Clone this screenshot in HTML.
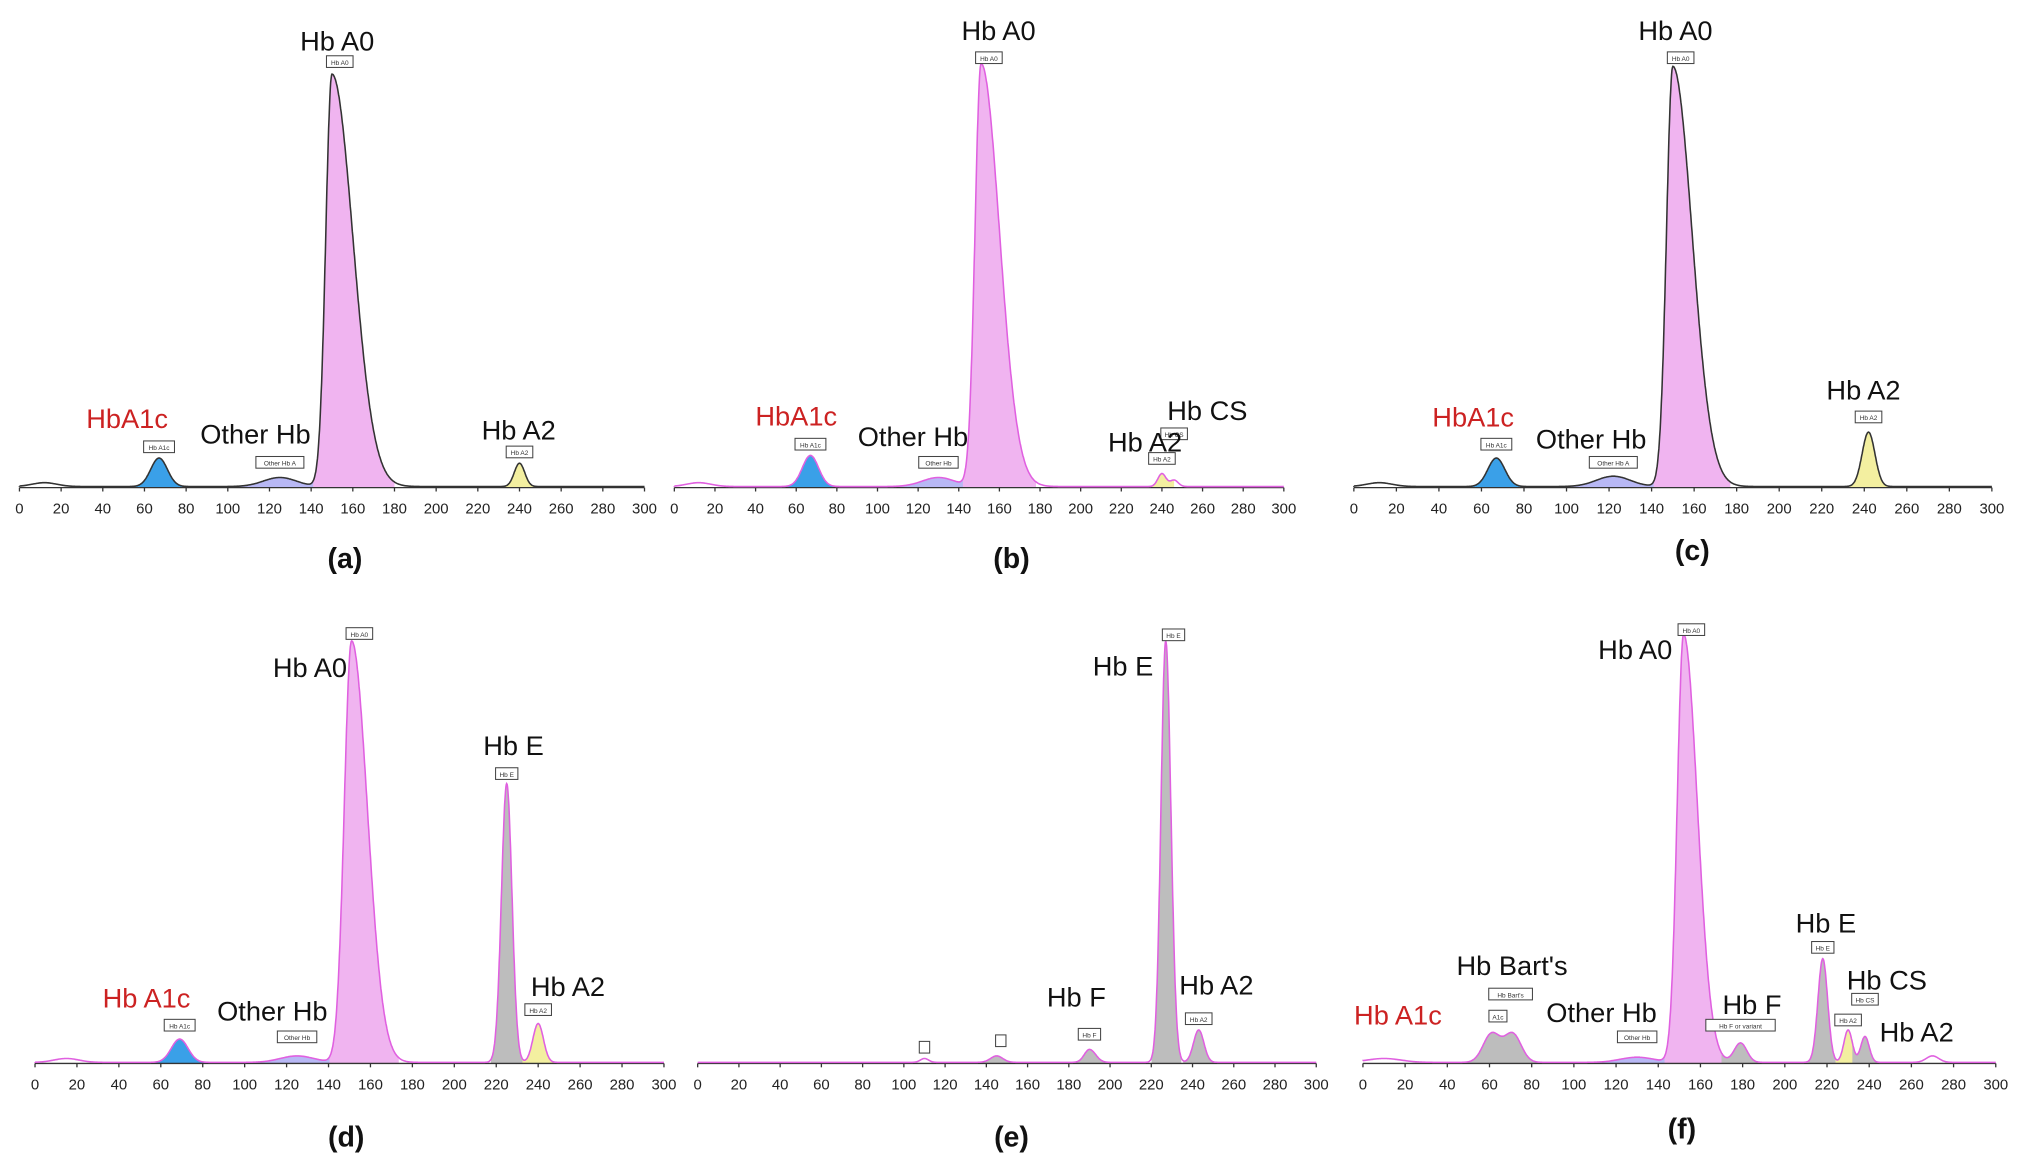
<!DOCTYPE html>
<html><head><meta charset="utf-8"><style>
html,body{margin:0;padding:0;background:#fff;}
svg{display:block;}
text{font-family:"Liberation Sans",Arial,sans-serif;}
.lb{font-size:21px;fill:#111;}
.red{font-size:21px;fill:#cc2222;}
.cap{font-size:22px;font-weight:bold;fill:#111;}
.tk{font-size:11.5px;fill:#222;}
.sb{font-size:5px;fill:#333;}
</style></head><body>
<svg id="s" width="2023" height="1162" viewBox="0 0 1560 896" preserveAspectRatio="none" xmlns="http://www.w3.org/2000/svg">
<g id="plots"></g>
<text class="lb" x="260" y="39" text-anchor="middle">Hb A0</text>
<text class="red" x="98" y="330" text-anchor="middle">HbA1c</text>
<text class="lb" x="197" y="342" text-anchor="middle">Other Hb</text>
<text class="lb" x="400" y="339" text-anchor="middle">Hb A2</text>
<text class="cap" x="266" y="438" text-anchor="middle">(a)</text>
<text class="lb" x="770" y="31" text-anchor="middle">Hb A0</text>
<text class="red" x="614" y="328" text-anchor="middle">HbA1c</text>
<text class="lb" x="704" y="344" text-anchor="middle">Other Hb</text>
<text class="lb" x="883" y="348" text-anchor="middle">Hb A2</text>
<text class="lb" x="931" y="324" text-anchor="middle">Hb CS</text>
<text class="cap" x="780" y="438" text-anchor="middle">(b)</text>
<text class="lb" x="1292" y="31" text-anchor="middle">Hb A0</text>
<text class="red" x="1136" y="329" text-anchor="middle">HbA1c</text>
<text class="lb" x="1227" y="346" text-anchor="middle">Other Hb</text>
<text class="lb" x="1437" y="308" text-anchor="middle">Hb A2</text>
<text class="cap" x="1305" y="432" text-anchor="middle">(c)</text>
<text class="lb" x="239" y="522" text-anchor="middle">Hb A0</text>
<text class="lb" x="396" y="582" text-anchor="middle">Hb E</text>
<text class="lb" x="438" y="768" text-anchor="middle">Hb A2</text>
<text class="red" x="113" y="777" text-anchor="middle">Hb A1c</text>
<text class="lb" x="210" y="787" text-anchor="middle">Other Hb</text>
<text class="cap" x="267" y="884" text-anchor="middle">(d)</text>
<text class="lb" x="866" y="521" text-anchor="middle">Hb E</text>
<text class="lb" x="830" y="776" text-anchor="middle">Hb F</text>
<text class="lb" x="938" y="767" text-anchor="middle">Hb A2</text>
<text class="cap" x="780" y="884" text-anchor="middle">(e)</text>
<text class="lb" x="1261" y="508" text-anchor="middle">Hb A0</text>
<text class="lb" x="1408" y="719" text-anchor="middle">Hb E</text>
<text class="lb" x="1166" y="752" text-anchor="middle">Hb Bart's</text>
<text class="lb" x="1455" y="763" text-anchor="middle">Hb CS</text>
<text class="red" x="1078" y="790" text-anchor="middle">Hb A1c</text>
<text class="lb" x="1235" y="788" text-anchor="middle">Other Hb</text>
<text class="lb" x="1351" y="782" text-anchor="middle">Hb F</text>
<text class="lb" x="1478" y="803" text-anchor="middle">Hb A2</text>
<text class="cap" x="1297" y="878" text-anchor="middle">(f)</text>
</svg>
<script>
var P=[
{x0:15,w:482,y0:376,line:"#333",base:[[12,3,6]],pk:[[67,22,4,4,"#3aa0e8"],[125,7,8,8,"#b8b8f5"],[150,318,3,10,"#f0b4f0"],[240,18,2.5,2.5,"#f3efa0"]],
 boxes:[[150,"Hb A0",48],[67,"Hb A1c",345],[125,"Other Hb A",357],[240,"Hb A2",349]]},
{x0:520,w:470,y0:376,line:"#e060e0",base:[[12,3,6]],pk:[[67,24,4,4,"#3aa0e8"],[130,7,8,8,"#b8b8f5"],[151,326,3,9,"#f0b4f0"],[240,10,2,2,"#f3efa0"],[246,5,2,2,null]],
 boxes:[[151,"Hb A0",45],[67,"Hb A1c",343],[130,"Other Hb",357],[240,"Hb A2",354],[246,"Hb CS",335]]},
{x0:1044,w:492,y0:376,line:"#333",base:[[12,3,6]],pk:[[67,22,4,4,"#3aa0e8"],[122,8,8,8,"#b8b8f5"],[150,324,3,9,"#f0b4f0"],[242,42,3,3,"#f3efa0"]],
 boxes:[[150,"Hb A0",45],[67,"Hb A1c",343],[122,"Other Hb A",357],[242,"Hb A2",322]]},
{x0:27,w:485,y0:820,line:"#e060e0",base:[[15,3,6]],pk:[[69,18,4,4,"#3aa0e8"],[125,5,8,8,"#b8b8f5"],[151,325,3.5,7.5,"#f0b4f0"],[225,215,2.5,2.5,"#bdbdbd"],[240,30,2.5,2.5,"#f3efa0"]],
 boxes:[[151,"Hb A0",489],[69,"Hb A1c",791],[125,"Other Hb",800],[225,"Hb E",597],[240,"Hb A2",779]]},
{x0:538,w:477,y0:820,line:"#e060e0",base:[],pk:[[110,3,2,2,null],[145,5,3,3,"#bdbdbd"],[190,10,2.5,3,"#bdbdbd"],[227,325,2.3,2.5,"#bdbdbd"],[243,25,2.5,2.5,"#bdbdbd"]],
 boxes:[[227,"Hb E",490],[190,"Hb F",798],[243,"Hb A2",786],[110,"",808],[147,"",803]]},
{x0:1051,w:488,y0:820,line:"#e060e0",base:[[10,3,8]],pk:[[61,22,4,4,"#bdbdbd"],[71,22,4,4,"#bdbdbd"],[130,4,8,8,"#b8b8f5"],[152,330,3,6.5,"#f0b4f0"],[179,15,3,3,"#bdbdbd"],[218,80,2.3,2.3,"#bdbdbd"],[230,25,2,2,"#f3efa0"],[238,20,2,2,"#bdbdbd"],[270,5,3,3,null]],
 boxes:[[152,"Hb A0",486],[218,"Hb E",731],[64,"A1c",784],[70,"Hb Bart's",767],[130,"Other Hb",800],[179,"Hb F or variant",791],[230,"Hb A2",787],[238,"Hb CS",771]]}
];
function g(x,p){var w=x<p[0]?p[2]:p[3];var d=(x-p[0])/w;return p[1]*Math.exp(-0.5*d*d);}
var out="";
P.forEach(function(q){
 var sx=q.w/300, X=function(t){return q.x0+t*sx;};
 function tot(t){var s=0.8;q.pk.forEach(function(p){s+=g(t,p);});q.base.forEach(function(b){s+=b[1]*Math.exp(-0.5*Math.pow((t-b[0])/b[2],2));});return s;}
 q.pk.forEach(function(p){ if(!p[4])return;
  var a=p[0]-3*p[2],b=p[0]+3*p[3],d="M"+X(a).toFixed(1)+","+q.y0;
  for(var t=a;t<=b;t+=0.2){d+=" L"+X(t).toFixed(1)+","+(q.y0-tot(t)).toFixed(1);}
  d+=" L"+X(b).toFixed(1)+","+q.y0+"Z";
  out+='<path d="'+d+'" fill="'+p[4]+'" stroke="none"/>';});
 out+='<line x1="'+X(0)+'" y1="'+q.y0+'" x2="'+X(300)+'" y2="'+q.y0+'" stroke="#333" stroke-width="1"/>';
 for(var v=0;v<=300;v+=20){out+='<line x1="'+X(v)+'" y1="'+q.y0+'" x2="'+X(v)+'" y2="'+(q.y0+3)+'" stroke="#333"/>';
  out+='<text class="tk" x="'+X(v)+'" y="'+(q.y0+20)+'" text-anchor="middle">'+v+'</text>';}
 var d="M"+X(0)+","+(q.y0-tot(0));
 for(var t=0;t<=300;t+=0.2){d+=" L"+X(t).toFixed(1)+","+(q.y0-tot(t)).toFixed(1);}
 out+='<path d="'+d+'" fill="none" stroke="'+q.line+'" stroke-width="1.2"/>';
 q.boxes.forEach(function(b){var bw=Math.max(8,b[1].length*3.3+4);
  var off=(b[0]>=150&&b[2]<520&&b[2]>400||b[2]<60?6:0);
  out+='<rect x="'+(X(b[0])-bw/2+off)+'" y="'+(b[2]-5)+'" width="'+bw+'" height="9" fill="#fff" stroke="#444" stroke-width="0.8"/>';
  out+='<text class="sb" x="'+(X(b[0])+off)+'" y="'+(b[2]+2)+'" text-anchor="middle">'+b[1]+'</text>';});
});
document.getElementById("plots").innerHTML=out;
</script>
</body></html>
